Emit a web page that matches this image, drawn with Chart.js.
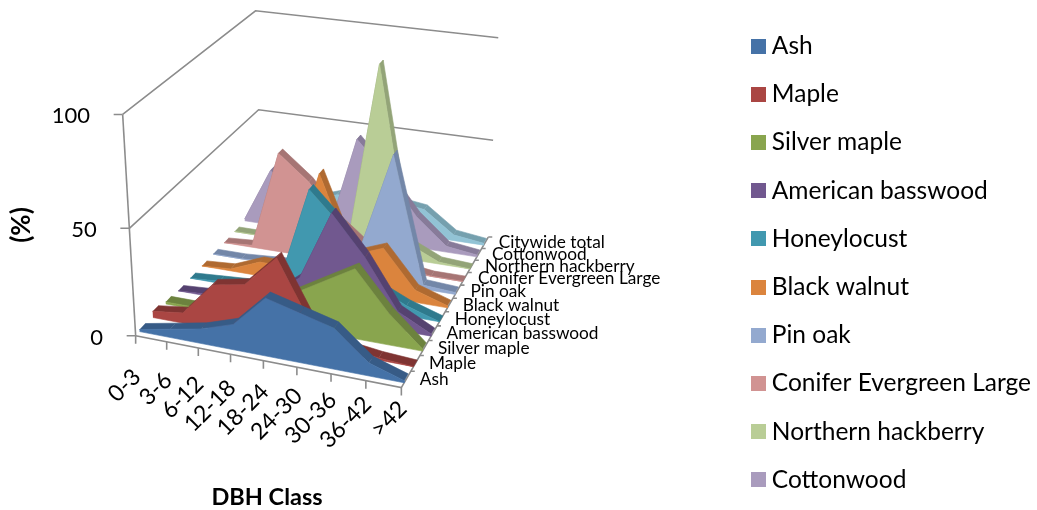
<!DOCTYPE html>
<html>
<head>
<meta charset="utf-8">
<title>DBH Class</title>
<script src="https://cdn.jsdelivr.net/npm/chart.js@4"></script>
<style>
  html, body { margin: 0; padding: 0; background: #fff; }
  canvas { display: block; }
</style>
</head>
<body>
<canvas id="dbhChart" width="1037" height="510"></canvas>
<script>
const categories = ['0-3', '3-6', '6-12', '12-18', '18-24', '24-30', '30-36', '36-42', '>42'];
const seriesNames = ['Ash', 'Maple', 'Silver maple', 'American basswood', 'Honeylocust', 'Black walnut',
    'Pin oak', 'Conifer Evergreen Large', 'Northern hackberry', 'Cottonwood', 'Citywide total'];
const valueTicks = [0, 50, 100];

const ash = [1, 4, 7, 12, 27, 23, 19, 6, 1];
const maple = [3, 5, 21, 24, 39, 11, 3, 1, 0];
const silverMaple = [1, 1, 3, 6, 15, 24, 33, 15, 1];
const basswood = [0, 1, 2, 5, 17, 50, 32, 9, 1];
const honeylocust = [0, 1, 2, 6, 53, 38, 12, 5, 0];
const blackWalnut = [0, 1, 7, 7, 55, 18, 24, 6, 1];
const pinOak = [0, 0, 1, 2, 3, 16, 63, 2, 1];
const conifer = [0, 1, 50, 38, 20, 8, 2, 0, 0];
const hackberry = [0, 0, 1, 2, 5, 94, 8, 1, 0];
const cottonwood = [1, 29, 10, 1, 51, 35, 16, 3, 1];
const citywide = [1, 4, 10, 15, 16, 16, 14, 3, 1];
const seriesValues = [ash, maple, silverMaple, basswood, honeylocust, blackWalnut,
    pinOak, conifer, hackberry, cottonwood, citywide];

const faceColors = ['#4572a7', '#aa4643', '#89a54e', '#71588f', '#4198af', '#db843d',
    '#93a9cf', '#d19392', '#b9cd96', '#a99bbd', '#92c3d5'];
const ribbonColors = ['#375b86', '#7f3432', '#6c823e', '#554270', '#2f7a8d', '#af6a31',
    '#7387a8', '#a67574', '#93a478', '#877b99', '#75a0ae'];
const frameColor = '#8c8c8c';
const fontFamily = 'Lato, "Open Sans", sans-serif';

// corners of the 3D box on screen: front-left, front-right, back-right, back-left
const floorCorners = [[135, 336], [401, 388], [488, 237], [261, 203]];
const ceilCorners = [[122, 114], [407, 158], [498, 37], [255, 10]];
const bandGap = 0.29;

// unit square -> quad
function homography(q) {
    const [[x0, y0], [x1, y1], [x2, y2], [x3, y3]] = q;
    const dx1 = x1 - x2, dx2 = x3 - x2, sx = x0 - x1 + x2 - x3;
    const dy1 = y1 - y2, dy2 = y3 - y2, sy = y0 - y1 + y2 - y3;
    const den = dx1 * dy2 - dx2 * dy1;
    const g = (sx * dy2 - dx2 * sy) / den;
    const h = (dx1 * sy - sx * dy1) / den;
    const a = x1 - x0 + g * x1, b = x3 - x0 + h * x3;
    const d = y1 - y0 + g * y1, e = y3 - y0 + h * y3;
    return (u, v) => {
        const w = g * u + h * v + 1;
        return [(a * u + b * v + x0) / w, (d * u + e * v + y0) / w];
    };
}

const floorMap = homography(floorCorners);
const ceilMap = homography(ceilCorners);

// u along the categories, v into the depth, value in percent
function project(u, v, value) {
    const t = value / 100;
    const k = t / (t + (1 - t) * 1.06);
    const f = floorMap(u, v);
    const c = ceilMap(u, v);
    return { x: f[0] + (c[0] - f[0]) * k, y: f[1] + (c[1] - f[1]) * k };
}

const uAt = (i) => i / (categories.length - 1);
const bandFront = (j) => (j + bandGap) / seriesNames.length;
const bandBack = (j) => (j + 1 - bandGap) / seriesNames.length;

function polygon(points, color) {
    return {
        data: points,
        showLine: true,
        fill: 'shape',
        backgroundColor: color,
        borderColor: color,
        borderWidth: 0.6,
        pointRadius: 0,
        tension: 0
    };
}

function frameLine(points) {
    return {
        data: points,
        showLine: true,
        fill: false,
        borderColor: frameColor,
        borderWidth: 1.6,
        pointRadius: 0,
        tension: 0
    };
}

function buildDatasets() {
    const sets = [];
    // the first dataset is painted last, so go front to back
    seriesValues.forEach((values, j) => {
        const front = values.map((val, i) => project(uAt(i), bandFront(j), val));
        const base = [project(1, bandFront(j), 0), project(0, bandFront(j), 0)];
        sets.push(polygon(front.concat(base), faceColors[j]));
        for (let i = 0; i < values.length - 1; i++) {
            sets.push(polygon([
                project(uAt(i), bandFront(j), values[i]),
                project(uAt(i + 1), bandFront(j), values[i + 1]),
                project(uAt(i + 1), bandBack(j), values[i + 1]),
                project(uAt(i), bandBack(j), values[i])
            ], ribbonColors[j]));
        }
    });

    // gridlines on the two walls
    valueTicks.filter((t) => t > 0).forEach((t) => {
        sets.push(frameLine([project(0, 0, t), project(0, 1, t), project(1, 1, t)]));
    });
    // axes
    sets.push(frameLine([project(0, 0, 0), project(0, 0, 100)]));
    sets.push(frameLine([project(0, 0, 0), project(1, 0, 0), project(1, 1, 0)]));
    // tick marks
    valueTicks.forEach((t) => {
        const p = project(0, 0, t);
        sets.push(frameLine([p, { x: p.x - 9, y: p.y }]));
    });
    categories.forEach((c, i) => {
        const p = project(uAt(i), 0, 0);
        sets.push(frameLine([p, { x: p.x, y: p.y + 8 }]));
    });
    for (let j = 1; j <= seriesNames.length; j++) {
        const p = project(1, j / seriesNames.length, 0);
        sets.push(frameLine([p, { x: p.x + 4, y: p.y }]));
    }
    return sets;
}

function swatch(color) {
    const c = document.createElement('canvas');
    c.width = 15;
    c.height = 15;
    const g = c.getContext('2d');
    g.fillStyle = color;
    g.fillRect(0, 0, 15, 15);
    return c;
}

const axisText = {
    id: 'axisText',
    afterLayout(chart) {
        // nudge the legend column off the centred position
        chart.legend.top += 8;
        chart.legend.bottom += 8;
        chart.legend.left += 4;
        chart.legend.right += 4;
    },
    afterDatasetsDraw(chart) {
        const ctx = chart.ctx;
        ctx.save();
        ctx.fillStyle = '#000';
        ctx.textBaseline = 'middle';

        ctx.font = '22px ' + fontFamily;
        ctx.textAlign = 'right';
        valueTicks.forEach((t) => {
            const p = project(0, 0, t);
            ctx.fillText(String(t), p.x - 32, p.y + 2);
        });

        ctx.font = '23px ' + fontFamily;
        categories.forEach((label, i) => {
            const p = project(uAt(i), 0, 0);
            ctx.save();
            ctx.translate(p.x + 2, p.y + 37 - 20 * uAt(i));
            ctx.rotate(-Math.PI / 4);
            ctx.fillText(label, 0, 0);
            ctx.restore();
        });

        ctx.font = '17.25px ' + fontFamily;
        ctx.textAlign = 'left';
        seriesNames.forEach((name, j) => {
            const p = project(1, (j + 0.5) / seriesNames.length, 0);
            ctx.fillText(name, p.x + 14, p.y);
        });

        ctx.font = 'bold 23.5px ' + fontFamily;
        ctx.textAlign = 'center';
        ctx.fillText('DBH Class', 267, 497);
        ctx.font = 'bold 26px ' + fontFamily;
        ctx.save();
        ctx.translate(22, 225);
        ctx.rotate(-Math.PI / 2);
        ctx.fillText('(%)', 0, 0);
        ctx.restore();
        ctx.restore();
    }
};

const chart = new Chart(document.getElementById('dbhChart'), {
    type: 'scatter',
    data: { datasets: buildDatasets() },
    plugins: [axisText],
    options: {
        responsive: false,
        animation: false,
        scales: {
            x: { type: 'linear', display: false, min: 0, max: 730 },
            y: { type: 'linear', display: false, min: 0, max: 510, reverse: true }
        },
        plugins: {
            tooltip: { enabled: false },
            legend: {
                position: 'right',
                labels: {
                    usePointStyle: true,
                    pointStyleWidth: 3,
                    boxHeight: 15,
                    padding: 23.7,
                    color: '#000',
                    font: { family: fontFamily, size: 24.5 },
                    generateLabels: () => seriesNames.slice(0, 10).map((name, j) => ({
                        text: name,
                        fontColor: '#000',
                        pointStyle: swatch(faceColors[j]),
                        lineWidth: 0,
                        hidden: false
                    }))
                }
            }
        }
    }
});

// the value scale needs the plot width that the legend leaves over
chart.options.scales.x.max = chart.chartArea.right;
chart.update('none');
</script>
</body>
</html>
